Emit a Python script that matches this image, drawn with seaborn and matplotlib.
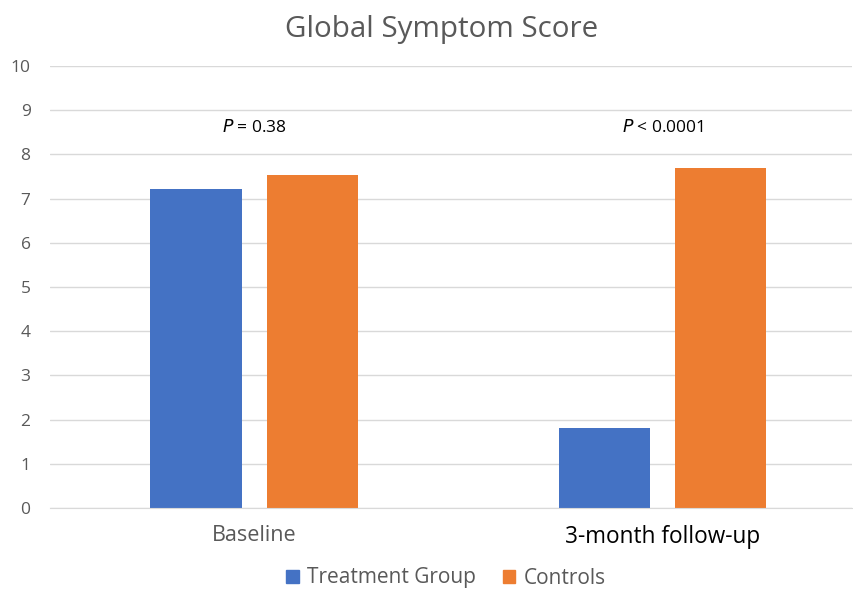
import pandas as pd
import matplotlib.pyplot as plt
import seaborn as sns

sns.set_style("white")
plt.rcParams['font.family'] = ['Open Sans', 'DejaVu Sans']

timepoints = ["Baseline", "3-month follow-up"]
groups = ["Treatment Group", "Controls"]
treatment = [7.22, 1.80]
controls = [7.53, 7.69]
p_labels = ["$P$ = 0.38", "$P$ < 0.0001"]
colors = ["#4472C4", "#ED7D31"]

df = pd.DataFrame({
    "time": timepoints * 2,
    "group": [groups[0]] * 2 + [groups[1]] * 2,
    "score": treatment + controls,
})

fig = plt.figure(figsize=(8.54, 5.90), dpi=100)
ax = fig.add_axes([50 / 854, 1 - 508 / 590, 802 / 854, 442 / 590])
sns.barplot(data=df, x="time", y="score", hue="group", palette=colors,
            width=0.569, gap=0.215, ax=ax, legend=False, saturation=1,
            linewidth=0)

ax.set_xlim(-0.5, 1.464)
ax.set_ylim(0, 10)
ax.set_yticks(range(0, 11))
ax.yaxis.grid(True, color="#d9d9d9", linewidth=1)
ax.set_axisbelow(True)
for s in ["top", "right", "left"]:
    ax.spines[s].set_visible(False)
ax.spines["bottom"].set_color("#d9d9d9")
ax.tick_params(axis="y", length=0, labelsize=12.5, labelcolor="#595959", pad=14)
ax.tick_params(axis="x", length=0, pad=12)
ax.set_xlabel("")
ax.set_ylabel("")
labs = ax.get_xticklabels()
labs[0].set_fontsize(15.5)
labs[0].set_color("#595959")
labs[1].set_fontsize(16.3)
labs[1].set_color("black")

for i, t in enumerate(p_labels):
    ax.text(i, 8.6, t, ha="center", va="center", fontsize=12.5, color="black")

fig.suptitle("Global Symptom Score", fontsize=21.3, color="#595959",
             x=442 / 854, y=0.975)

handles = [plt.Rectangle((0, 0), 1, 1, color=c) for c in colors]
fig.legend(handles, groups, loc="center", bbox_to_anchor=(446 / 854, 1 - 578 / 590),
           ncol=2, frameon=False, fontsize=15, handlelength=0.6, handleheight=0.6,
           columnspacing=1.3, handletextpad=0.4, labelcolor="#595959")

fig.savefig("out.png", dpi=100)
